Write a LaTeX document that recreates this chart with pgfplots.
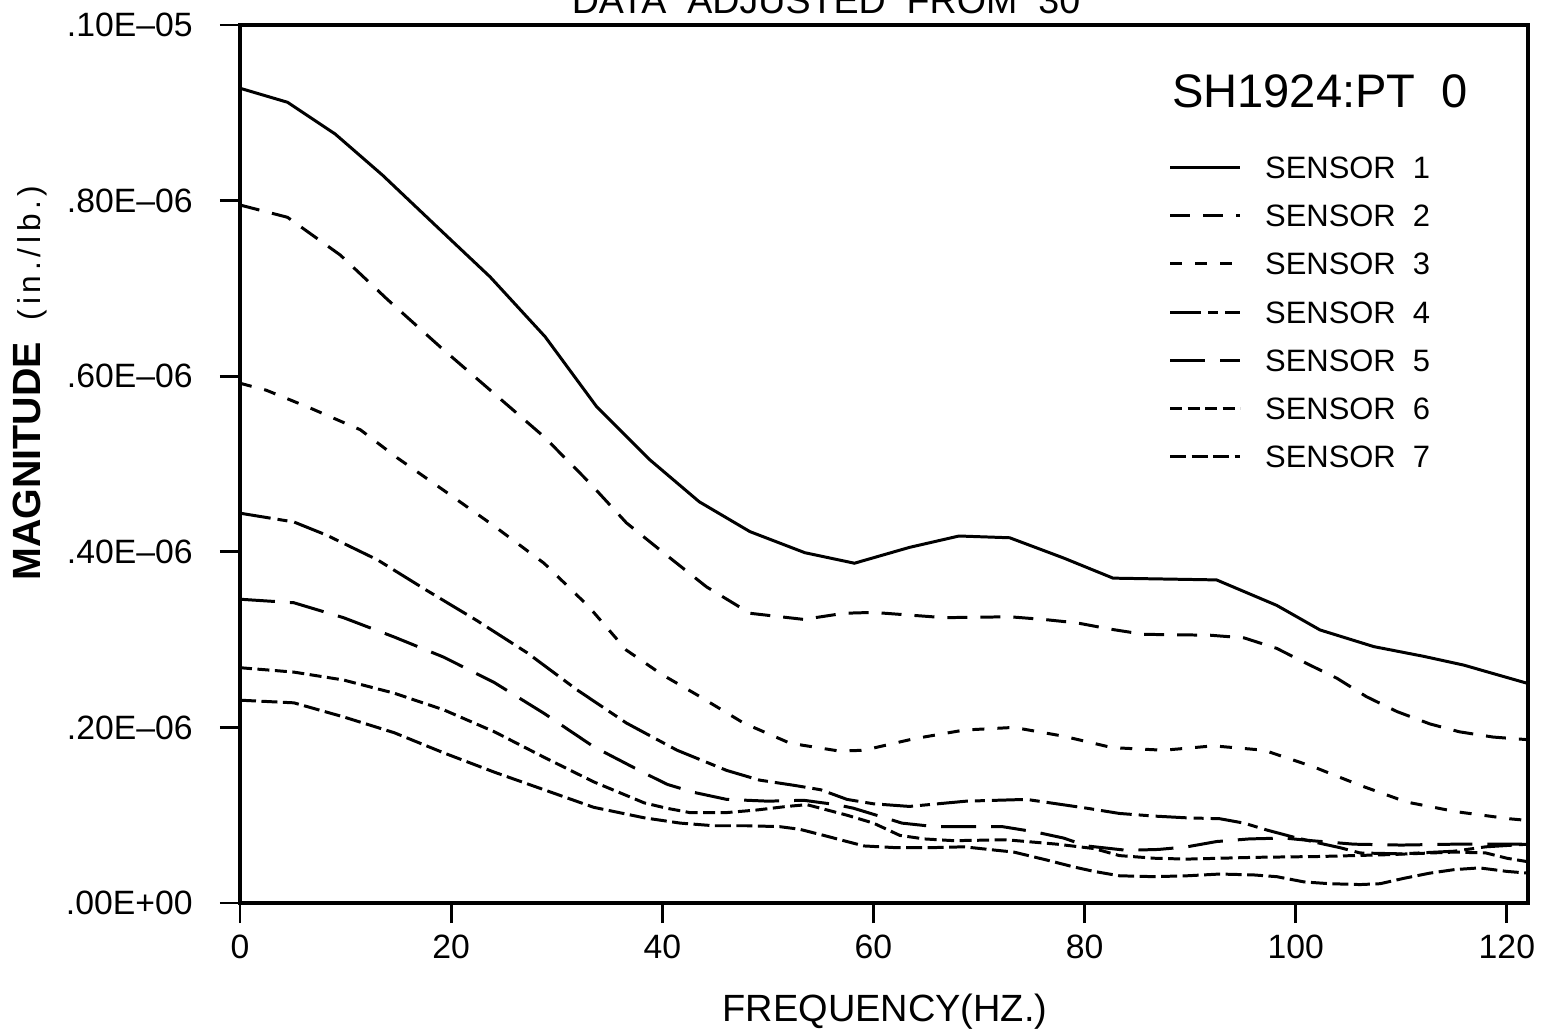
\documentclass[border=0pt]{standalone}
\usepackage{fontspec}
\setmainfont{Liberation Sans}
\usepackage{pgfplots}
\pgfplotsset{compat=1.18}
\usetikzlibrary{calc}

% 1 px of the reference = 0.01cm
\begin{document}
\begin{tikzpicture}
\begin{axis}[
    scale only axis,
    width=12.88cm, height=8.78cm,
    xmin=0, xmax=122, ymin=0, ymax=1,
    axis line style={line width=1pt},
    xtick={0,20,40,60,80,100,120},
    ytick={0,0.2,0.4,0.6,0.8,1.0},
    yticklabels={.00E+00,.20E--06,.40E--06,.60E--06,.80E--06,.10E--05},
    tick pos=left, tick align=outside,
    major tick length=0.2cm,
    tick style={line width=0.8pt, black},
    ticklabel style={font=\fontsize{9.6}{11}\selectfont},
    yticklabel style={xshift=-0.15cm},
    /pgf/number format/assume math mode=true,
    every axis plot/.append style={line width=0.85pt, black, no marks},
    legend image code/.code={\draw[#1] (0cm,0cm) -- (0.7cm,0cm);},
    legend cell align=left,
    legend style={at={(rel axis cs:0.7205,0.855)}, anchor=north west,
        draw=none, fill=none, inner sep=0pt, row sep=5.4pt, column sep=0.2cm,
        font=\fontsize{8.8}{10}\selectfont,
        nodes={inner sep=1pt, text height=6.3pt, text depth=0pt}},
]
\coordinate (O) at (rel axis cs:0,0);

% sensor 1
\addplot[solid] coordinates {
(0,0.928) (4.5,0.912) (9,0.876) (13.5,0.829) (18.5,0.772) (23.7,0.713)
(28.9,0.645) (33.8,0.565) (38.8,0.505) (43.5,0.457) (48.3,0.423) (53.5,0.399)
(58.2,0.387) (63.4,0.405) (68.1,0.418) (72.9,0.416) (78,0.393) (82.7,0.370)
(92.5,0.368) (98.2,0.339) (102.3,0.311) (107.4,0.292) (112.1,0.281)
(115.9,0.271) (122,0.250)
};
% sensor 2
\addplot[dash pattern=on 0.2cm off 0.13cm] coordinates {
(0,0.795) (4.5,0.781) (9.5,0.738) (14,0.687) (19,0.633) (24,0.581)
(28.8,0.531) (33,0.480) (36.6,0.433) (40,0.400) (44.2,0.360) (48.3,0.330)
(53.4,0.323) (57.2,0.330) (60,0.331) (66.7,0.325) (72.9,0.326) (76.1,0.323)
(79.3,0.319) (82.4,0.312) (85.6,0.306) (91.9,0.305) (95.1,0.302) (98.2,0.290)
(101,0.273) (103.9,0.256) (106.7,0.235) (109.6,0.218) (112.7,0.204)
(115.5,0.195) (118.7,0.189) (122,0.186)
};
% sensor 3
\addplot[dash pattern=on 0.12cm off 0.13cm] coordinates {
(0,0.592) (2.5,0.584) (6.6,0.564) (11.4,0.539) (14.9,0.507) (19.3,0.470)
(24,0.430) (28.8,0.387) (33,0.338) (36.6,0.288) (40,0.260) (43.3,0.237)
(47.7,0.205) (52.1,0.182) (56.8,0.173) (59.1,0.174) (63.8,0.187) (68.6,0.197)
(73.3,0.200) (78,0.190) (82.6,0.177) (87.5,0.174) (92.2,0.179) (97,0.174)
(101.7,0.155) (106.1,0.134) (110.5,0.115) (115.2,0.104) (120.2,0.096)
(122,0.094)
};
% sensor 4
\addplot[dash pattern=on 0.31cm off 0.07cm on 0.1cm off 0.07cm] coordinates {
(0,0.444) (5.1,0.434) (8.2,0.419) (13,0.391) (17.7,0.356) (22.4,0.322)
(27.2,0.285) (31.9,0.243) (36.6,0.205) (41.4,0.174) (46.1,0.151) (49.2,0.140)
(52.5,0.134) (55,0.129) (57.5,0.118) (60,0.113) (63.4,0.110) (68.8,0.116)
(74.5,0.118) (80.2,0.108) (83.3,0.102) (86.6,0.099) (89.7,0.097) (92.8,0.096)
(95.1,0.091) (97.3,0.083) (99.8,0.075) (102.3,0.068) (104.2,0.063)
(106.1,0.057) (110,0.056) (115,0.059) (118,0.064) (122,0.067)
};
% sensor 5
\addplot[dash pattern=on 0.35cm off 0.15cm] coordinates {
(0,0.346) (5.1,0.342) (9.8,0.325) (14.6,0.303) (19.3,0.280) (24.1,0.251)
(28.8,0.216) (33.5,0.178) (38.3,0.148) (40.5,0.135) (43,0.126) (46.1,0.118)
(50,0.116) (53.4,0.117) (56.5,0.112) (58.1,0.108) (61.1,0.097) (62.7,0.091)
(65.8,0.087) (72.2,0.087) (75.3,0.081) (78,0.074) (80.2,0.065) (84,0.060)
(87,0.061) (89.7,0.064) (92.5,0.070) (95.6,0.073) (98.9,0.074) (101.5,0.071)
(105.5,0.067) (110,0.066) (115,0.067) (122,0.067)
};
% sensor 6
\addplot[dash pattern=on 0.12cm off 0.055cm] coordinates {
(0,0.268) (5.1,0.263) (9.8,0.254) (14.6,0.239) (19.3,0.220) (24.1,0.195)
(28.8,0.166) (33.5,0.138) (38.3,0.114) (40.4,0.108) (42.6,0.103) (46.1,0.103)
(49,0.106) (51.8,0.110) (53.7,0.112) (55.6,0.106) (57.5,0.100) (60,0.091)
(62.5,0.077) (64.8,0.073) (67.6,0.071) (72.6,0.072) (77.4,0.067) (80.9,0.062)
(83.3,0.054) (86.6,0.051) (89.7,0.050) (96,0.052) (102.3,0.053) (108.6,0.055)
(115,0.058) (118,0.057) (120,0.051) (122,0.047)
};
% sensor 7
\addplot[dash pattern=on 0.16cm off 0.055cm] coordinates {
(0,0.231) (5.1,0.228) (9.8,0.212) (14.6,0.194) (19.3,0.171) (24.1,0.149)
(28.8,0.129) (33.5,0.109) (38.3,0.097) (41.7,0.091) (44.9,0.088) (48,0.088)
(51.1,0.087) (53,0.084) (55.3,0.077) (57.5,0.070) (59.1,0.065) (62.2,0.063)
(65.3,0.063) (68.6,0.064) (71.7,0.060) (73.3,0.058) (76.4,0.049) (79,0.041)
(80.9,0.036) (83.3,0.031) (86.6,0.030) (89.7,0.031) (92.8,0.033) (96,0.032)
(98.2,0.030) (100.8,0.024) (103.2,0.022) (106.1,0.021) (108,0.022)
(110.2,0.028) (112.7,0.034) (115,0.038) (117.4,0.040) (120,0.036) (122,0.034)
};
\legend{SENSOR\ \ 1,SENSOR\ \ 2,SENSOR\ \ 3,SENSOR\ \ 4,SENSOR\ \ 5,SENSOR\ \ 6,SENSOR\ \ 7}
\end{axis}

% labels, placed in reference pixels from the axis origin
\node[anchor=base] at ($(O)+(5.86cm,8.90cm)$) {\fontsize{10.7}{12}\selectfont DATA\ \ ADJUSTED\ \ FROM\ \ 30};
\node at ($(O)+(10.80cm,8.12cm)$) {\fontsize{13.4}{15}\selectfont SH1924:PT\ \ 0};
\node[rotate=90] at ($(O)+(-2.10cm,5.20cm)$) {\fontsize{11.2}{13}\selectfont\bfseries MAGNITUDE\ \ {\mdseries\fontsize{9}{10}\selectfont\addfontfeature{LetterSpace=15}(in./lb.)}};
\node at ($(O)+(6.45cm,-1.09cm)$) {\fontsize{10.8}{12}\selectfont FREQUENCY(HZ.)};

\pgfresetboundingbox
\useasboundingbox ($(O)+(-2.40cm,-1.29cm)$) rectangle ($(O)+(13.03cm,9.03cm)$);
\end{tikzpicture}
\end{document}
